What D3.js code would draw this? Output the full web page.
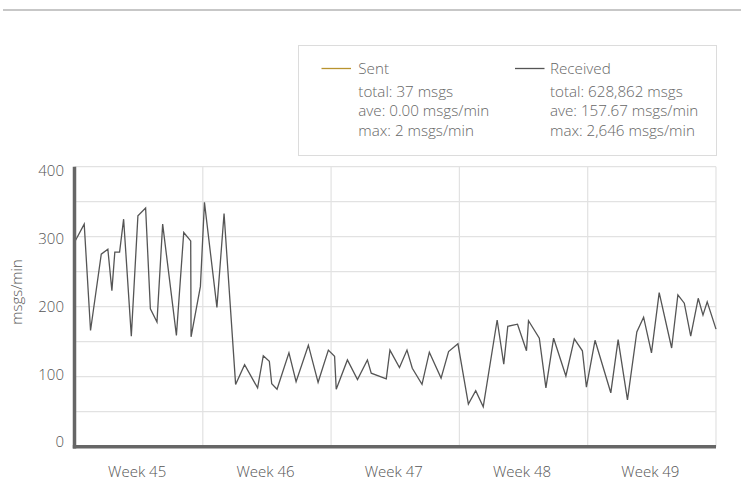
<!DOCTYPE html>
<html>
<head>
<meta charset="utf-8">
<script src="https://cdn.jsdelivr.net/npm/d3@7/dist/d3.min.js"></script>
<style>
  html, body { margin: 0; padding: 0; background: #fff; }
  svg { display: block; }
  text { font-family: "Open Sans", "Noto Sans", sans-serif; font-weight: 300; }
</style>
</head>
<body>
<svg id="chart" width="742" height="481"></svg>
<script>
// ---- data ----
const weekLabels = ["Week 45", "Week 46", "Week 47", "Week 48", "Week 49"];
const yTicks = [0, 100, 200, 300, 400];
// time in days from start of Week 45
const receivedDays = [0, 0.53, 0.875, 1.46, 1.82, 2.04, 2.20, 2.46, 2.68, 3.10, 3.46, 3.88, 4.14, 4.50, 4.81,
  5.56, 5.96, 6.34, 6.36, 6.87, 7.09, 7.77, 8.16, 8.79, 9.28, 9.99, 10.30, 10.63, 10.76, 11.05, 11.70,
  12.09, 12.76, 13.29, 13.85, 14.19, 14.28, 14.89, 15.44, 15.98, 16.19, 17.01, 17.21, 17.73, 18.14,
  18.43, 18.96, 19.36, 20.00, 20.41, 20.92, 21.49, 21.89, 22.30, 23.06, 23.42, 23.64, 24.17, 24.66,
  24.77, 25.36, 25.72, 26.14, 26.81, 27.27, 27.71, 27.93, 28.40, 29.26, 29.66, 30.17, 30.68, 31.05,
  31.48, 31.90, 32.58, 32.92, 33.27, 33.62, 34.03, 34.29, 34.52, 35.00];
const receivedValues = [292, 318, 166, 275, 282, 223, 278, 278, 325, 158, 330, 341, 197, 178, 318,
  159, 306, 294, 157, 229, 349, 199, 333, 89, 117, 84, 130, 122, 90, 82, 134,
  93, 145, 92, 138, 129, 82, 124, 96, 124, 105, 97, 138, 113, 138,
  112, 89, 135, 98, 136, 147, 61, 80, 57, 181, 118, 172, 175, 137,
  180, 155, 84, 155, 101, 154, 137, 85, 152, 77, 153, 67, 164, 185,
  134, 220, 141, 217, 205, 158, 212, 188, 207, 168];
const legendItems = [
  { name: "Sent", color: "#b8932e", lines: ["total: 37 msgs", "ave: 0.00 msgs/min", "max: 2 msgs/min"] },
  { name: "Received", color: "#555555", lines: ["total: 628,862 msgs", "ave: 157.67 msgs/min", "max: 2,646 msgs/min"] }
];
const yLabel = "msgs/min";

// ---- drawing ----
const svg = d3.select("#chart");
const x = d3.scaleLinear().domain([0, 35]).range([74.5, 716]);
const y = d3.scaleLinear().domain([0, 400]).range([446.7, 166.7]);
const yLab = d3.scaleLinear().domain([0, 400]).range([442, 170.5]);

// top rule
svg.append("line").attr("x1", 3).attr("x2", 741).attr("y1", 10).attr("y2", 10)
  .attr("stroke", "#b4b4b4").attr("stroke-width", 1.5);

// horizontal grid
svg.append("g").selectAll("line").data(d3.range(50, 401, 50)).join("line")
  .attr("x1", x(0)).attr("x2", x(35))
  .attr("y1", d => y(d)).attr("y2", d => y(d))
  .attr("stroke", "#e2e2e2").attr("stroke-width", 1.2);

// vertical grid (week boundaries)
svg.append("g").selectAll("line").data(d3.range(7, 36, 7)).join("line")
  .attr("x1", d => x(d)).attr("x2", d => x(d))
  .attr("y1", y(400)).attr("y2", y(0))
  .attr("stroke", "#e2e2e2").attr("stroke-width", 1.2);

// received line
const line = d3.line().x((d, i) => x(receivedDays[i])).y(d => y(d));
svg.append("path").datum(receivedValues)
  .attr("d", line).attr("fill", "none")
  .attr("stroke", "#555").attr("stroke-width", 1.3).attr("stroke-linejoin", "miter");

// axes
svg.append("line").attr("x1", x(0)).attr("x2", x(0)).attr("y1", y(400)).attr("y2", y(0) + 1.8)
  .attr("stroke", "#666").attr("stroke-width", 3.5);
svg.append("line").attr("x1", x(0) - 1.7).attr("x2", x(35)).attr("y1", y(0)).attr("y2", y(0))
  .attr("stroke", "#666").attr("stroke-width", 3.5);

// y tick labels
svg.append("g").selectAll("text").data(yTicks).join("text")
  .attr("x", 64).attr("y", d => yLab(d)).attr("dy", "0.36em")
  .attr("text-anchor", "end").attr("font-size", 15).attr("fill", "#555")
  .text(d => d);

// y axis label
svg.append("text").attr("transform", "translate(22,292) rotate(-90)")
  .attr("text-anchor", "middle").attr("font-size", 15).attr("fill", "#555")
  .text(yLabel);

// x labels
svg.append("g").selectAll("text").data(weekLabels).join("text")
  .attr("x", (d, i) => x(i * 7 + 3.5) - 1.5).attr("y", 476.5)
  .attr("text-anchor", "middle").attr("font-size", 15).attr("fill", "#555")
  .text(d => d);

// legend
const lg = svg.append("g");
lg.append("rect").attr("x", 298.5).attr("y", 45.5).attr("width", 418).attr("height", 110)
  .attr("fill", "#fff").attr("stroke", "#dcdcdc").attr("stroke-width", 1);
const lx = [321.5, 515];
const tx = [36.8, 35];
legendItems.forEach((it, i) => {
  const g = lg.append("g").attr("transform", `translate(${lx[i]},0)`);
  g.append("line").attr("x1", 0).attr("x2", 29.5).attr("y1", 68.5).attr("y2", 68.5)
    .attr("stroke", it.color).attr("stroke-width", 1.3);
  g.append("text").attr("x", tx[i]).attr("y", 74).attr("font-size", 15.2).attr("fill", "#666").text(it.name);
  it.lines.forEach((t, j) => {
    g.append("text").attr("x", tx[i]).attr("y", 97 + j * 19.4).attr("font-size", 15.2).attr("fill", "#666").text(t);
  });
});
</script>
</body>
</html>
